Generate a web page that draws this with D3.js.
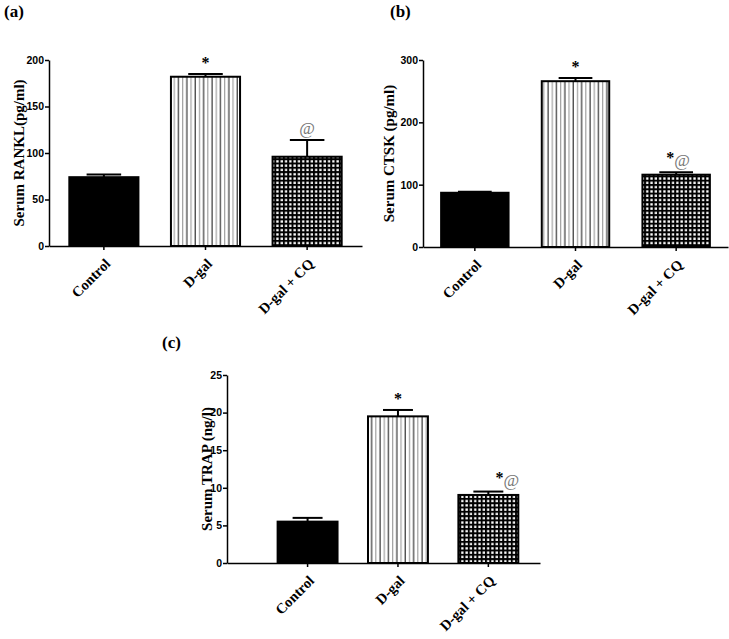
<!DOCTYPE html>
<html><head><meta charset="utf-8">
<script src="https://cdn.jsdelivr.net/npm/d3@7"></script>
<style>
html,body{margin:0;padding:0;background:#fff;}
svg{display:block;}
.serif{font-family:"Liberation Serif","Times New Roman",Times,serif;}
.sans{font-family:"Liberation Sans",Arial,Helvetica,sans-serif;}
</style>
</head><body>
<svg id="chart" width="729" height="639"></svg>
<script>
// ---------- data ----------
const categories = ["Control", "D-gal", "D-gal + CQ"];
const ranklMean = [74, 182, 96];
const ranklErr  = [3, 3, 18];
const ranklTicks = [0, 50, 100, 150, 200];
const ranklSig = ["", "*", "@"];

const ctskMean = [87, 266, 116];
const ctskErr  = [1.5, 5, 4];
const ctskTicks = [0, 100, 200, 300];
const ctskSig = ["", "*", "*@"];

const trapMean = [5.5, 19.5, 9.05];
const trapErr  = [0.5, 0.85, 0.45];
const trapTicks = [0, 5, 10, 15, 20, 25];
const trapSig = ["", "*", "*@"];

const fills = ["solid", "stripes", "grid"];

// ---------- drawing ----------
const svg = d3.select("#chart");

const defs = svg.append("defs");
const ps = defs.append("pattern").attr("id", "stripes").attr("patternUnits", "userSpaceOnUse")
  .attr("width", 8.4).attr("height", 10);
ps.append("rect").attr("width", 8.4).attr("height", 10).attr("fill", "#fff");
ps.append("rect").attr("x", 1.5).attr("width", 1.1).attr("height", 10).attr("fill", "#222");
ps.append("rect").attr("x", 5.7).attr("width", 1.1).attr("height", 10).attr("fill", "#999");
const pg = defs.append("pattern").attr("id", "grid").attr("patternUnits", "userSpaceOnUse")
  .attr("width", 4.3).attr("height", 4.3);
pg.append("rect").attr("width", 4.3).attr("height", 4.3).attr("fill", "#000");
pg.append("rect").attr("x", 1.1).attr("y", 1.1).attr("width", 2.3).attr("height", 2.3).attr("fill", "#fff");

function panel(cfg) {
  const g = svg.append("g");
  const y = d3.scaleLinear().domain(cfg.domain).range([cfg.y0, cfg.y1]);
  const x = d3.scaleBand().domain(categories).range([cfg.x0, cfg.x1])
    .paddingInner(cfg.pi).paddingOuter(cfg.po).align(cfg.align);

  g.selectAll("rect.bar").data(cfg.mean).join("rect").attr("class", "bar")
    .attr("x", (d, i) => x(categories[i]))
    .attr("width", x.bandwidth())
    .attr("y", d => y(d))
    .attr("height", d => y(0) - y(d))
    .attr("fill", (d, i) => fills[i] === "solid" ? "#000" : `url(#${fills[i]})`)
    .attr("stroke", "#000").attr("stroke-width", 2);

  cfg.mean.forEach((m, i) => {
    const cx = x(categories[i]) + x.bandwidth() / 2;
    const top = y(m + cfg.err[i]);
    g.append("line").attr("x1", cx).attr("x2", cx).attr("y1", y(m)).attr("y2", top)
      .attr("stroke", "#000").attr("stroke-width", 2);
    g.append("line").attr("x1", cx - x.bandwidth() / 4).attr("x2", cx + x.bandwidth() / 4)
      .attr("y1", top).attr("y2", top).attr("stroke", "#000").attr("stroke-width", 2);
    const s = cfg.sig[i];
    if (s) {
      const t = g.append("text").attr("class", "serif").attr("x", cx + (s.length > 1 ? cfg.sigShift : 0))
        .attr("y", top - 6).attr("text-anchor", "middle");
      for (const ch of s) {
        if (ch === "*") t.append("tspan").text("*").attr("font-weight", "bold").attr("font-size", 16).attr("fill", "#000")
          .attr("dy", s.length > 1 ? -3 : 0);
        else t.append("tspan").text("@").attr("font-size", 17).attr("fill", "#777")
          .attr("dy", s.length > 1 ? 3 : 0);
      }
    }
  });

  const ya = g.append("g").attr("transform", `translate(${cfg.x0},0)`)
    .call(d3.axisLeft(y).tickValues(cfg.ticks).tickSize(4).tickPadding(1).tickSizeOuter(0));
  ya.attr("font-family", null);
  ya.select(".domain").attr("stroke-width", 1.5);
  ya.selectAll(".tick line").attr("stroke-width", 1.5);
  ya.selectAll("text").attr("class", "sans").attr("font-weight", "bold").attr("font-size", 10.5).attr("fill", "#000");

  const xa = g.append("g").attr("transform", `translate(0,${cfg.y0})`)
    .call(d3.axisBottom(x).tickSize(4).tickSizeOuter(0));
  xa.attr("font-family", null);
  xa.select(".domain").attr("stroke-width", 1.5);
  xa.selectAll(".tick line").attr("stroke-width", 1.5);
  xa.selectAll("text")
    .attr("class", "serif").attr("font-weight", "bold").attr("font-size", 14.5).attr("fill", "#000")
    .attr("text-anchor", "end").attr("dy", "0.35em").attr("y", 0)
    .attr("transform", "translate(4,15) rotate(-45)");

  g.append("text").attr("class", "serif")
    .attr("transform", `translate(${cfg.titleX},${(cfg.y0 + cfg.y1) / 2}) rotate(-90)`)
    .attr("text-anchor", "middle").attr("dominant-baseline", "central")
    .attr("font-weight", "bold").attr("font-size", 15)
    .text(cfg.title);

  svg.append("text").attr("class", "serif").attr("x", cfg.lx).attr("y", cfg.ly)
    .attr("font-weight", "bold").attr("font-size", 17)
    .text(cfg.label);
}

panel({ mean: ranklMean, err: ranklErr, ticks: ranklTicks, sig: ranklSig, domain: [0, 200],
  x0: 49, x1: 362, y0: 246, y1: 60, pi: 0.32, po: 0.2, align: 0.5, sigShift: 0,
  title: "Serum RANKL(pg/ml)", titleX: 19, label: "(a)", lx: 4, ly: 17 });

panel({ mean: ctskMean, err: ctskErr, ticks: ctskTicks, sig: ctskSig, domain: [0, 300],
  x0: 423, x1: 728, y0: 247, y1: 60, pi: 0.33, po: 0.18, align: 0.5, sigShift: 2,
  title: "Serum CTSK (pg/ml)", titleX: 389, label: "(b)", lx: 390, ly: 17 });

panel({ mean: trapMean, err: trapErr, ticks: trapTicks, sig: trapSig, domain: [0, 25],
  x0: 227, x1: 540, y0: 563, y1: 375, pi: 0.337, po: 0.4, align: 0.7, sigShift: 19,
  title: "Serum TRAP (ng/l)", titleX: 207, label: "(c)", lx: 162, ly: 348 });
</script>
</body></html>
